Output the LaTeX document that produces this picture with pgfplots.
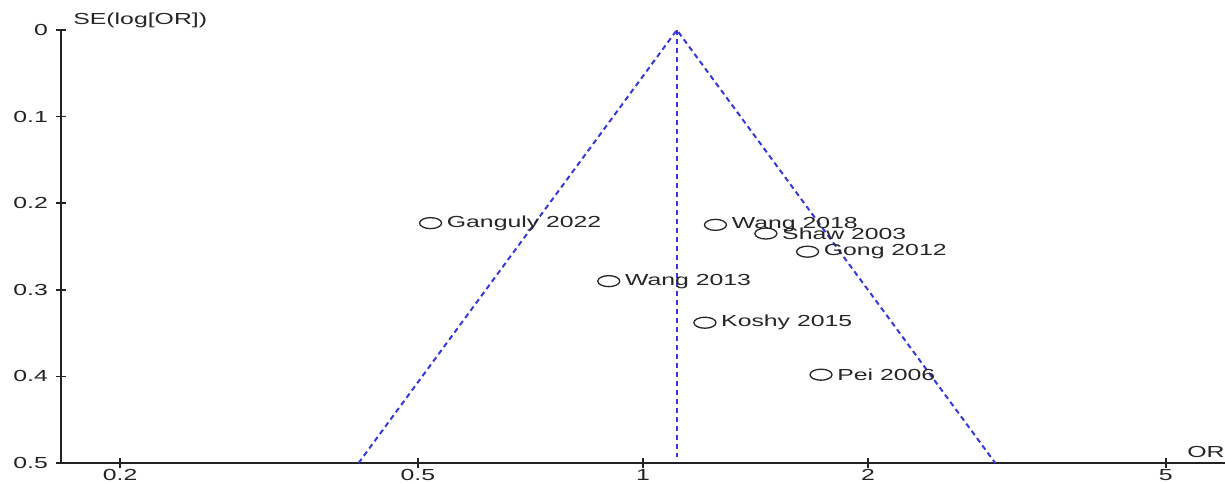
\documentclass[border=0pt]{standalone}
\usepackage{fontspec}
\setmainfont{Liberation Sans}[FakeStretch=1.55]
\usepackage{pgfplots}
\pgfplotsset{compat=1.18}
\definecolor{fun}{RGB}{55,55,220}
\definecolor{axc}{RGB}{35,35,35}
\begin{document}
\begin{tikzpicture}
\useasboundingbox (-30.5pt,-10pt) rectangle (582pt,231.5pt);
\begin{axis}[
  at={(0pt,0pt)}, anchor=south west,
  scale only axis, width=582pt, height=216.5pt,
  xmode=log, xmin=0.1667, xmax=6, ymin=0, ymax=0.5, y dir=reverse,
  axis x line=bottom, axis y line=left,
  axis line style={-, draw=axc, line width=0.75pt},
  xtick={0.2,0.5,1,2,5}, xticklabels={0.2,0.5,1,2,5},
  minor xtick={},
  ytick={0,0.1,0.2,0.3,0.4,0.5}, yticklabels={0,0.1,0.2,0.3,0.4,0.5},
  tick align=center, major tick length=5pt,
  tick style={draw=axc, line width=0.75pt},
  tick label style={font=\fontsize{8}{9}\selectfont, text=axc},
  xticklabel style={yshift=3pt},
  yticklabel style={xshift=-0.5pt},
  clip=false,
]
\addplot[fun, line width=1pt, dash pattern=on 2.6pt off 1.9pt] coordinates {(0.4166,0.5) (1.11,0) (2.958,0.5)};
\addplot[fun, line width=1pt, dash pattern=on 2.6pt off 1.9pt] coordinates {(1.11,0) (1.11,0.493)};
\addplot[only marks, mark=o, mark size=2.75pt,
  mark options={xscale=2, draw=black!85, line width=0.65pt},
  nodes near coords, point meta=explicit symbolic,
  nodes near coords style={anchor=west, xshift=4.5pt, font=\fontsize{8}{9}\selectfont, text=black!85}]
  table[col sep=comma, meta=label] {
x,y,label
0.52,0.223,Ganguly 2022
1.25,0.225,Wang 2018
1.46,0.235,Shaw 2003
1.66,0.256,Gong 2012
0.90,0.290,Wang 2013
1.21,0.338,Koshy 2015
1.73,0.398,Pei 2006
};
\end{axis}
\node[anchor=west, inner sep=0pt, font=\fontsize{8}{9}\selectfont, text=black!85] at (6pt,221.5pt) {SE(log[OR])};
\node[anchor=west, inner sep=0pt, font=\fontsize{8}{9}\selectfont, text=black!85] at (563pt,5.5pt) {OR};
\end{tikzpicture}
\end{document}
